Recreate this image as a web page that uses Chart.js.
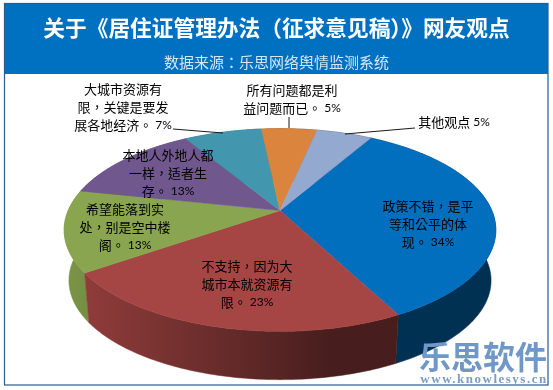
<!DOCTYPE html>
<html><head><meta charset="utf-8">
<style>html,body{margin:0;padding:0;background:#fff}canvas{display:block}</style>
<script src="https://cdn.jsdelivr.net/npm/chart.js@4/dist/chart.umd.min.js"></script>
</head><body>
<canvas id="c" width="553" height="390"></canvas>
<script>
const titleText = '关于《居住证管理办法（征求意见稿）》网友观点';
const subtitleText = '数据来源：乐思网络舆情监测系统';
const categories = ['政策不错，是平等和公平的体现。','不支持，因为大城市本就资源有限。','希望能落到实处，别是空中楼阁。','本地人外地人都一样，适者生存。','大城市资源有限，关键是要发展各地经济。','所有问题都是利益问题而已。','其他观点'];
const values = [34,23,13,13,7,5,5];
const colors = ['#016FBE','#A54644','#8AA54F','#70588F','#4296AE','#DB843D','#93A9CF'];
const labelLines = [
  ['政策不错，是平','等和公平的体','现。'],
  ['不支持，因为大','城市本就资源有','限。'],
  ['希望能落到实','处，别是空中楼','阁。'],
  ['本地人外地人都','一样，适者生','存。'],
  ['大城市资源有','限，关键是要发','展各地经济。'],
  ['所有问题都是利','益问题而已。'],
  ['其他观点']
];
const percentLabels = ['34%','23%','13%','13%','7%','5%','5%'];
const labelAnchors = [[428,206],[247,266],[125,209],[168,155],[123,89],[292,90],[454,122]];
const leaderPaths = [[[173,129],[223,133]],[[289,117],[289,128]],[[415,128],[345,134]]];

const view = {dx:0.027, gx:1.636, gy:0.754, beta:0.192, depth:0.3935, bottomScale:0.978};
const sideShade = {left:0.9, right:0.43};

function shade(hex,f){
  const n=parseInt(hex.slice(1),16);
  return `rgb(${Math.round((n>>16&255)*f)},${Math.round((n>>8&255)*f)},${Math.round((n&255)*f)})`;
}
function project(arc,a,bottom){
  const R=arc.outerRadius, u=Math.cos(a), v=Math.sin(a), d=1-view.beta*v, s=bottom?view.bottomScale:1;
  return [arc.x+R*view.dx+R*view.gx*s*u/d, arc.y+(bottom?R*view.depth:0)+R*view.gy*s*v/d];
}
function rim(arc,bottom,rev){
  const n=Math.max(8,Math.ceil((arc.endAngle-arc.startAngle)*60)),pts=[];
  for(let i=0;i<=n;i++){const t=rev?n-i:i;pts.push(project(arc,arc.startAngle+(arc.endAngle-arc.startAngle)*t/n,bottom));}
  return pts;
}
const pie3d={id:'pie3d',
  beforeDraw(chart){
    const c=chart.ctx;
    c.save();c.fillStyle='#fff';c.fillRect(0,0,553,390);
    c.fillStyle='#0070C0';c.fillRect(4,3,544,71);
    c.strokeStyle='#2A5A8E';c.lineWidth=1.2;c.strokeRect(4.5,3.5,543.5,381.5);
    c.restore();
  },
  beforeDatasetsDraw(chart){
    const c=chart.ctx, arcs=chart.getDatasetMeta(0).data;
    c.save();
    const order=arcs.map((a,i)=>i).sort((p,q)=>Math.sin((arcs[p].startAngle+arcs[p].endAngle)/2)-Math.sin((arcs[q].startAngle+arcs[q].endAngle)/2));
    order.forEach(i=>{
      const a=arcs[i],pts=rim(a,false,false).concat(rim(a,true,true));
      const R=a.outerRadius,cx=a.x+R*view.dx,x0=cx-R*view.gx*1.02,x1=cx+R*view.gx*0.24;
      const g=c.createLinearGradient(x0,0,x1,0);
      g.addColorStop(0,shade(colors[i],sideShade.left));
      g.addColorStop(1,shade(colors[i],sideShade.right));
      c.fillStyle=g;c.strokeStyle=g;c.lineWidth=0.5;
      c.beginPath();pts.forEach((p,k)=>k?c.lineTo(p[0],p[1]):c.moveTo(p[0],p[1]));c.closePath();c.fill();c.stroke();
    });
    arcs.forEach((a,i)=>{
      const pts=rim(a,false,false);
      c.fillStyle=colors[i];c.strokeStyle=colors[i];c.lineWidth=0.5;
      c.beginPath();c.moveTo(a.x+a.outerRadius*view.dx,a.y);pts.forEach(p=>c.lineTo(p[0],p[1]));c.closePath();c.fill();c.stroke();
    });
    c.restore();
    return false;
  },
  afterDraw(chart){
    const c=chart.ctx;
    const textFont='13px "Noto Sans CJK TC"', pctFont='12px Lato', gap=3;
    c.save();
    c.strokeStyle='#1a1a1a';c.lineWidth=1;
    leaderPaths.forEach(p=>{c.beginPath();p.forEach((q,k)=>k?c.lineTo(q[0],q[1]):c.moveTo(q[0],q[1]));c.stroke();});
    c.textAlign='left';c.textBaseline='middle';c.fillStyle='#000';
    labelLines.forEach((ls,i)=>{
      const [x,y]=labelAnchors[i];
      ls.forEach((t,k)=>{
        const last=k===ls.length-1;
        c.font=textFont;const w=c.measureText(t).width;
        c.font=pctFont;const pw=last?c.measureText(percentLabels[i]).width+gap:0;
        const left=x-(w+pw)/2,ly=y+k*18;
        c.font=textFont;c.fillText(t,left,ly);
        if(last){c.font=pctFont;c.fillText(percentLabels[i],left+w+gap,ly+0.5);}
      });
    });
    c.textAlign='center';
    c.fillStyle='#6F97C7';c.font='bold 32px "Noto Sans CJK SC"';
    c.fillText('乐思软件',483,357);
    c.fillStyle='#7A9CC6';c.font='bold 13px "Liberation Serif"';c.letterSpacing='1.5px';
    c.fillText('www.knowlesys.cn',484,380);
    c.restore();
  }
};
new Chart(document.getElementById('c'),{
  type:'pie',
  data:{labels:categories,datasets:[{data:values,backgroundColor:colors,borderWidth:0}]},
  plugins:[pie3d],
  options:{
    responsive:false,animation:false,rotation:30,
    layout:{padding:{left:0,right:0,top:0,bottom:50}},
    plugins:{
      legend:{display:false},tooltip:{enabled:false},
      title:{display:true,text:titleText,color:'#fff',font:{family:'"Noto Sans CJK TC"',size:21.7,weight:'bold'},padding:{top:15,bottom:0}},
      subtitle:{display:true,text:subtitleText,color:'#D6E6F4',font:{family:'"Noto Sans CJK TC"',size:15,weight:'normal'},padding:{top:12,bottom:10}}
    }
  }
});
</script>
</body></html>
